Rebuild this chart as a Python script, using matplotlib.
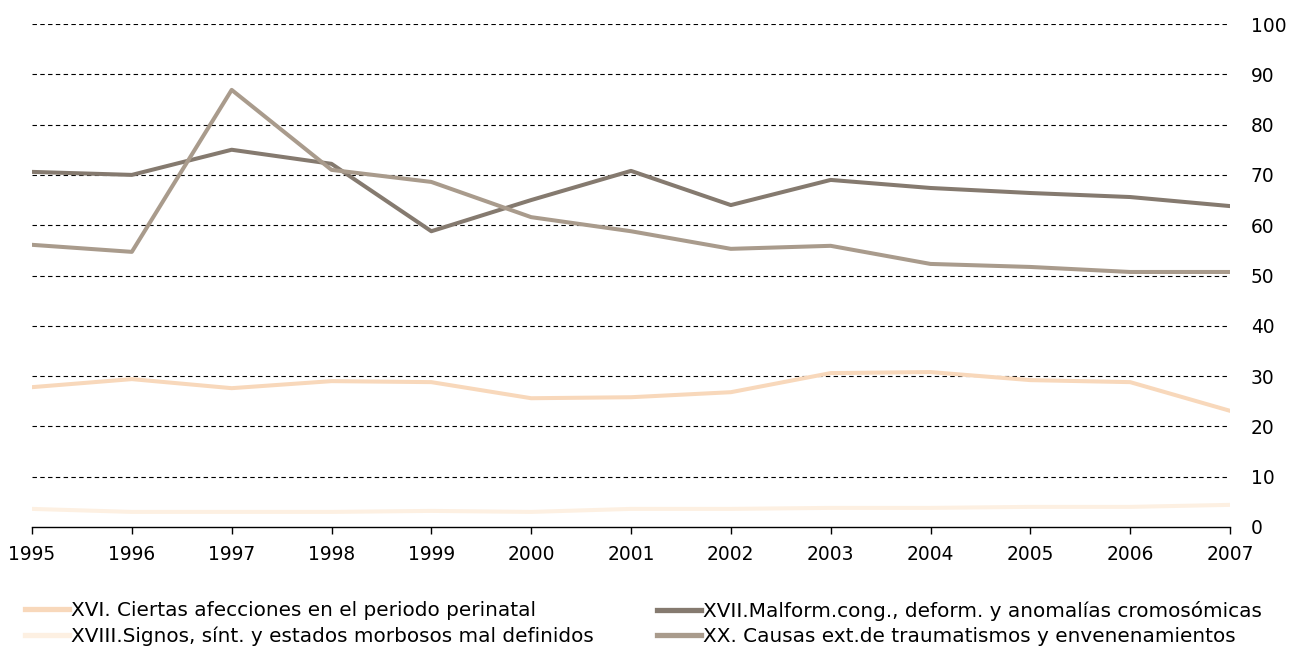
import matplotlib.pyplot as plt
import numpy as np

plt.rcParams['font.family'] = ['DejaVu Sans']

years = list(range(1995, 2008))
xvi = [27.8, 29.4, 27.6, 29.0, 28.8, 25.6, 25.8, 26.8, 30.6, 30.8, 29.2, 28.8, 23.1]
xvii = [70.6, 70.0, 75.0, 72.2, 58.8, 65.0, 70.8, 64.0, 69.0, 67.4, 66.4, 65.6, 63.8]
xviii = [3.6, 3.0, 3.0, 3.0, 3.2, 3.0, 3.6, 3.6, 3.8, 3.8, 4.0, 4.0, 4.4]
xx = [56.1, 54.7, 86.9, 71.0, 68.6, 61.6, 58.8, 55.3, 55.9, 52.3, 51.7, 50.7, 50.7]

labels = ['XVI. Ciertas afecciones en el periodo perinatal',
          'XVIII.Signos, sínt. y estados morbosos mal definidos',
          'XVII.Malform.cong., deform. y anomalías cromosómicas',
          'XX. Causas ext.de traumatismos y envenenamientos']
colors = ['#f8d8bb', '#fdf0e2', '#857a6f', '#a99b8c']

fig = plt.figure(figsize=(13.06, 6.52), dpi=100)
ax = fig.add_axes([32/1306, 125/652, (1230-32)/1306, (527-24)/652])

series = [xvi, xviii, xvii, xx]
lines = []
for s, c, lab in zip(series, colors, labels):
    ln, = ax.plot(years, s, color=c, lw=2.9, label=lab)
    lines.append(ln)

ax.set_xlim(1995, 2007)
ax.set_ylim(0, 100)
ax.set_yticks(range(0, 101, 10))
ax.set_xticks(years)
ax.yaxis.tick_right()
for y in range(10, 101, 10):
    ax.axhline(y, color='black', lw=0.8, ls=(0, (4, 3)), zorder=0)

for side in ['top', 'right', 'left']:
    ax.spines[side].set_visible(False)
ax.spines['bottom'].set_linewidth(1.0)
ax.tick_params(axis='y', length=0, pad=15, labelsize=13.4)
ax.tick_params(axis='x', length=5, width=1, direction='out', pad=8, labelsize=13.4)

leg_kw = dict(loc='upper left', frameon=False, fontsize=14.4, handlelength=2.2,
              handletextpad=0.1, labelspacing=0.3, borderpad=0, borderaxespad=0)
leg1 = fig.legend(handles=lines[:2], bbox_to_anchor=(25/1306, 1 - 601/652), **leg_kw)
leg2 = fig.legend(handles=lines[2:], bbox_to_anchor=(657/1306, 1 - 601/652), **leg_kw)
for leg in (leg1, leg2):
    for h in leg.get_lines():
        h.set_linewidth(3.8)

fig.savefig('out.png', dpi=100)
